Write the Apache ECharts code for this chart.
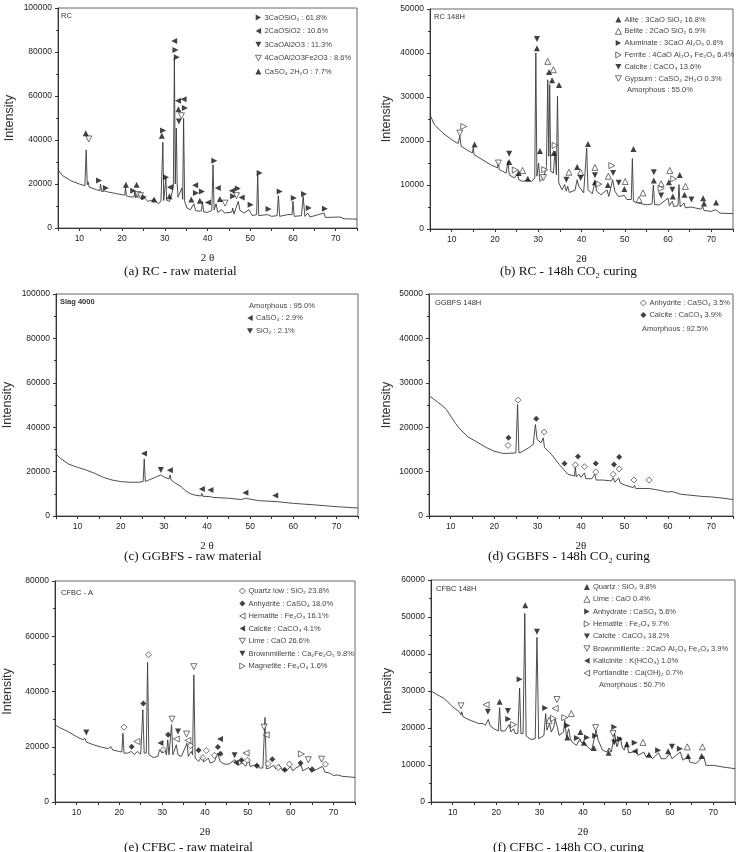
<!DOCTYPE html>
<html>
<head>
<meta charset="utf-8">
<script src="https://cdn.jsdelivr.net/npm/echarts@6/dist/echarts.min.js"></script>
<style>
  html, body { margin: 0; padding: 0; background: #fff; }
  #chart { width: 738px; height: 852px; }
</style>
</head>
<body>
<div id="chart"></div>
<script>
// ---- data: [2theta, intensity] ----
const xTicks = [10, 20, 30, 40, 50, 60, 70];

// (a) RC - raw material
const rcRawCurve = [[5,26500],[6,23900],[8,21500],[10,20000],[11.3,19200],[11.6,35500],[11.85,19700],[12.05,21000],[12.3,18600],[14,17400],[14.8,17000],[14.95,20000],[15.2,16600],[16.1,16800],[16.3,17400],[16.6,16400],[18,15900],[20,15100],[20.65,15000],[20.8,18500],[21.0,14600],[22,14100],[22.85,14200],[23.0,16600],[23.2,13600],[23.7,15400],[24.4,15100],[24.8,12900],[25.3,13600],[26,12100],[27.5,12900],[28.5,11000],[29.1,12100],[29.4,13000],[29.55,39000],[29.75,12500],[30.1,13000],[30.25,22700],[30.45,12500],[31.1,12100],[31.5,14400],[32.0,18500],[32.25,77000],[32.45,20000],[32.7,45400],[32.9,20000],[33.1,14000],[33.5,13600],[34.0,18200],[34.2,13000],[34.4,49900],[34.65,12100],[35.2,9100],[36,8300],[36.8,11000],[37.2,8000],[38,7600],[38.6,7800],[38.8,12100],[39.1,7300],[40,7100],[41.0,8000],[41.3,28700],[41.55,8200],[42,11000],[42.4,7100],[43.3,8300],[44,6800],[45.7,7200],[45.9,9100],[46.2,6300],[47.2,12100],[47.6,8000],[48.5,6800],[49.7,8300],[50.5,5600],[51.5,6100],[51.75,24200],[52.0,5600],[54,6100],[55,5300],[56.3,5600],[56.6,14700],[56.9,5300],[58.8,6100],[59.8,6100],[60.0,12100],[60.3,5300],[62.0,5600],[62.4,14400],[62.8,5300],[63.5,6800],[64,5000],[67.3,6800],[67.6,4800],[71,5000],[72,4200],[75,4000]];
const rcRawC3S = [[14.6,21600],[16.2,18200],[22.6,16900],[25.1,14100],[29.6,44300],[30.3,23100],[32.5,80900],[32.8,77600],[34.7,54500],[37.3,15900],[38.7,16600],[41.6,30600],[46.0,14400],[47.1,17900],[50.1,10600],[52.2,25000],[54.3,8600],[56.9,16600],[60.2,13600],[62.6,15400],[63.7,9100],[67.5,8800]];
const rcRawC2S = [[31.2,18500],[32.2,85000],[33.1,57800],[34.4,58500],[37.1,19400],[40.1,11600],[42.4,18200],[45.7,16900],[48.0,13900]];
const rcRawC3A = [[33.3,48400]];
const rcRawC4AF = [[12.2,40500],[23.7,15200],[24.3,14700],[33.9,51000],[44.1,11300],[46.8,14700]];
const rcRawGyp = [[11.5,43100],[20.9,19700],[23.4,19700],[27.5,12900],[29.3,41900],[31.1,14400],[33.2,54000],[36.2,12900],[38.2,12400],[42.9,13200]];

// (b) RC - 148h CO2 curing
const rcCurCurve = [[5,26000],[6,23700],[8,21800],[10,20300],[11.5,19400],[11.9,21100],[12.2,18800],[14,17700],[14.8,17300],[15.0,18500],[15.2,16900],[17,15800],[19,14600],[20.6,13900],[20.8,15000],[21,13500],[22.6,12700],[23.0,15400],[23.3,12300],[24.5,11600],[25.2,12600],[25.5,11200],[26.5,10800],[27.5,11200],[28.5,10800],[29.2,11600],[29.45,40000],[29.7,12000],[30.1,15000],[30.4,10800],[31.2,11600],[31.9,14200],[32.2,33900],[32.45,16500],[32.65,32800],[32.9,13100],[33.5,12700],[33.9,17700],[34.2,12300],[34.45,30200],[34.75,10500],[35.5,8900],[36.1,10100],[36.5,8600],[36.8,9700],[37.2,8300],[38.5,8800],[39.0,11200],[39.4,9700],[40.5,8200],[41.2,18400],[41.5,8900],[42.5,8000],[43.1,10800],[43.5,8600],[44.5,7800],[45.9,8900],[46.3,7400],[47.2,11200],[47.7,8600],[48.5,7400],[49.9,7600],[50.5,6700],[51.5,6700],[51.75,16000],[52.0,6300],[53,5900],[55,5500],[56.3,5700],[56.6,10000],[56.9,5500],[58,5500],[60.0,7000],[60.3,5300],[61,6300],[61.3,5100],[62.3,5300],[62.5,10100],[62.8,5000],[63.7,5900],[64,4800],[65.3,5000],[67.6,4500],[68.0,5100],[68.3,4200],[70,4000],[71,4400],[72,3600],[75,3500]];
const rcCurAlite = [[15.3,19200],[23.3,15200],[25.5,12700],[27.6,11400],[29.7,41100],[30.4,17700],[32.5,35700],[33.2,33800],[33.6,17300],[34.8,32700],[39.0,14100],[41.5,19300],[43.1,10600],[46.1,10000],[49.9,9100],[52.0,18200],[56.7,11000],[60.2,10600],[61.1,7400],[62.7,12300],[63.8,7800],[68.1,7000],[68.3,5800],[71.1,6000]];
const rcCurBelite = [[26.4,13300],[32.2,38100],[33.5,36200],[37.1,12900],[39.8,12900],[43.1,14000],[46.2,12000],[50.1,10800],[53.3,6700],[54.2,8200],[58.4,10300],[60.4,13300],[64.0,9700]];
const rcCurAluminate = [];
const rcCurFerrite = [[12.8,23300],[24.7,13400],[31.5,13500],[33.9,19000],[44.0,10200],[47.0,14400],[58.4,9200],[61.3,11400]];
const rcCurCalcite = [[23.3,17100],[29.7,43200],[36.5,11200],[39.8,11600],[43.1,12200],[47.3,12700],[48.6,10500],[56.7,12900],[58.4,7600],[61.0,8900],[65.4,6700]];
const rcCurGypsum = [[11.9,21800],[20.8,15000],[31.2,11700]];

// (c) GGBFS - raw material
const slagRawCurve = [[5,27900],[6,26000],[8,23300],[10,21900],[12,20700],[14,19200],[16,17400],[18,16200],[20,15500],[22,15200],[24,15200],[25.2,15500],[25.45,25700],[25.7,15500],[26.5,16200],[28,17400],[29.3,18500],[30.2,17400],[31.2,16700],[31.45,18500],[31.7,16200],[32.5,15000],[34,13200],[35,11400],[36,10200],[37,9500],[38.6,9000],[38.8,10200],[39.0,8900],[40.8,8700],[41.0,9500],[41.3,8400],[45,8000],[48,7400],[48.9,8000],[49.2,7100],[52,6900],[56,6500],[60,5700],[65,5000],[70,4200],[75,3600]];
const slagRawCaSO4 = [[25.4,28200],[31.4,20600],[38.8,12200],[40.8,11700],[48.9,10500],[55.8,9200]];
const slagRawSiO2 = [[29.3,20700]];

// (d) GGBFS - 148h CO2 curing
const slagCurCurve = [[5,27100],[6,26400],[8,24900],[9,24000],[10,22500],[11,21000],[12,19700],[14,17800],[16,16700],[18,15500],[20,14600],[22,14100],[23,14100],[23.2,14500],[23.4,13900],[25.0,14200],[25.4,25100],[25.7,14200],[26.5,14500],[28,15400],[29.0,16100],[29.5,20600],[29.9,17200],[30.8,16500],[31.3,17600],[31.6,15400],[32.5,14600],[33.5,13500],[35,11600],[36,10500],[37,9400],[38.5,9000],[38.7,11200],[38.9,8800],[39.5,9400],[40,8700],[40.8,9700],[41.1,8400],[42.5,8400],[43.2,9400],[43.5,8100],[45,8100],[47,7900],[47.4,8600],[47.8,7600],[48.7,8600],[49,7500],[50,7000],[52,6400],[52.3,6900],[52.6,6200],[55.7,6200],[56,5800],[58,5800],[60,5400],[61,5500],[63,4900],[65,4700],[68,4400],[70,4300],[72,4100],[75,3700]];
const slagCurAnhydrite = [[23.2,15900],[25.5,26100],[31.5,18900],[38.7,11500],[40.8,11100],[43.4,9900],[47.4,9400],[48.8,10600],[52.2,8100],[55.7,8100]];
const slagCurCalcite = [[23.3,17600],[29.7,21900],[36.2,11800],[39.3,13400],[43.4,11800],[47.6,11600],[48.8,13300]];

// (e) CFBC - raw material
const cfbcRawCurve = [[5,28000],[6,27000],[8,25500],[10,23700],[11.5,22500],[12,23100],[12.3,21700],[14,20700],[16,19800],[17.5,19300],[18,20100],[18.5,18800],[20,18300],[20.6,18100],[20.85,24900],[21.1,17700],[22,17700],[22.8,18300],[23.5,17100],[24.2,18300],[25,17300],[25.5,33400],[25.8,17700],[26.3,17700],[26.6,50500],[26.9,17100],[28,16100],[29,16500],[29.4,18900],[30,17700],[30.5,19500],[31.0,17100],[31.3,22500],[31.6,17100],[32.2,28000],[32.5,17100],[33.3,20700],[33.7,17100],[34.5,16500],[35.8,21300],[36.1,16500],[36.8,18300],[37.1,17100],[37.4,46000],[37.7,15900],[38.5,14700],[39.3,16500],[39.7,14500],[40.8,15900],[41.2,14100],[42.2,14700],[43.0,17700],[43.5,14700],[44.5,13700],[45.5,13700],[47,15300],[47.5,13300],[48.8,14100],[49.5,12900],[50.2,15500],[50.5,12900],[52.3,13500],[52.7,12300],[53.5,12300],[54.0,30600],[54.3,12000],[55,12300],[56,13300],[56.5,12000],[57.3,13500],[58,11700],[59,11300],[60,12900],[60.5,11300],[61.2,12300],[62.4,13500],[62.8,11300],[64.2,12500],[64.8,10800],[67.4,12900],[68,10800],[69,10500],[70,9600],[71,9800],[72,9300],[75,8900]];
const cfbcRawQuartz = [[21.1,27100],[26.8,53300],[30.3,18900],[36.6,20400],[39.5,16100],[40.3,18600],[42.2,16900],[49.9,15100],[54.7,13900],[57.1,12500],[59.7,13700],[68.1,13700]];
const cfbcRawAnhydrite = [[22.9,20000],[25.6,35700],[31.4,24300],[38.5,18700],[43.0,19900],[43.6,17500],[48.5,15100],[52.1,13100],[55.7,15500],[58.6,11700],[62.3,14100],[65.0,11900]];
const cfbcRawHematite = [[24.1,21900],[33.3,22800],[36.0,22300],[49.6,17700],[54.3,24300]];
const cfbcRawCalcite = [[29.6,21400],[43.5,22800],[47.2,14300]];
const cfbcRawLime = [[32.3,30000],[35.7,24600],[37.4,49000],[53.8,27100],[64.1,15300],[67.2,15500]];
const cfbcRawBrown = [[12.3,25200],[33.7,25500],[46.9,16900]];
const cfbcRawMagnetite = [[62.5,17400]];

// (f) CFBC - 148h CO2 curing
const cfbcCurCurve = [[5,30000],[6,29300],[8,28000],[10,25700],[11.5,24400],[11.9,23500],[12.1,24400],[12.4,23000],[14,22100],[16,21200],[17,21200],[17.5,20700],[18.2,22300],[18.6,20600],[19.5,19800],[20.5,19200],[20.8,25500],[21.1,19200],[22,19200],[23.0,20900],[23.4,18900],[24,19800],[24.4,18500],[25.0,18500],[25.4,30800],[25.7,18500],[26.2,18500],[26.6,51000],[26.9,17900],[28,16900],[29.0,17100],[29.4,44500],[29.8,17100],[30.5,17600],[31.0,18000],[31.4,23900],[31.7,19400],[32.3,21200],[32.7,18900],[33.3,20300],[33.6,22400],[34.0,20700],[34.5,18000],[35.5,18900],[35.8,22100],[36.2,17600],[36.7,19800],[37.1,17100],[37.5,16200],[38.5,15300],[39.3,17100],[39.5,16200],[40.5,15800],[41,14900],[42,14000],[43.0,19400],[43.5,16700],[44.5,14000],[45.5,13500],[46,14600],[46.5,13500],[47.3,18500],[47.8,14900],[48.6,17600],[49,14900],[49.5,14000],[50.1,16200],[50.5,13300],[51.5,13500],[52.2,13700],[52.7,12600],[54,13500],[54.5,12200],[55.2,12800],[56,11700],[57.4,13300],[58,11700],[59,11700],[60.0,13100],[60.5,11700],[61,12200],[62.4,13500],[63,11300],[64.2,12200],[64.6,10800],[66,10400],[67.8,12400],[68.3,9900],[70,9900],[71,9700],[72,9500],[75,9000]];
const cfbcCurQuartz = [[20.8,27100],[26.7,53200],[36.4,17400],[39.4,18900],[40.2,16000],[42.5,14600],[45.9,13300],[50.1,15600],[55.2,12800],[59.6,13700],[64.2,12400],[67.3,12400]];
const cfbcCurLime = [[32.2,22100],[37.3,23900],[53.8,16100],[64.0,14900],[67.5,14900]];
const cfbcCurAnhydrate = [[22.8,22400],[25.4,33200],[31.3,25400],[36.4,20700],[38.6,17300],[40.9,17400],[42.8,17900],[47.2,20300],[48.5,17000],[51.9,16000],[57.3,14000],[62.3,14400]];
const cfbcCurHematite = [[24.0,20900],[33.2,22600],[35.8,22800]];
const cfbcCurCalcite = [[18.1,24400],[22.7,24600],[29.4,46000],[47.2,16100],[60.5,14900]];
const cfbcCurBrown = [[11.9,26000],[34.0,27700],[42.9,20100],[46.9,18500]];
const cfbcCurKalicinite = [[51.9,13700]];
const cfbcCurPortlandite = [[17.7,26300],[33.6,25300]];

// ---- marker shapes ----
const UP = 'triangle';
const DOWN = 'path://M0,0L10,0L5,9Z';
const RIGHT = 'path://M0,0L9,5L0,10Z';
const LEFT = 'path://M9,0L0,5L9,10Z';
const DIAM = 'diamond';

// ---- panel layout ----
const panels = [
  { left: 58,  top: 8,   width: 299, height: 220, ymax: 100000, step: 20000, xname: '2 θ', yGap: 42,
    curve: rcRawCurve, tag: 'RC', tagPos: [61, 12], legendPos: [255, 13.5], legendGap: 5.5,
    caption: '(a) RC - raw material', capPos: [124, 272],
    marks: [
      ['3CaOSiO₂ : 61.8%', rcRawC3S, RIGHT, false],
      ['2CaOSiO2 : 10.6%', rcRawC2S, LEFT, false],
      ['3CaOAl2O3 : 11.3%', rcRawC3A, DOWN, false],
      ['4CaOAl2O3Fe2O3 : 8.6%', rcRawC4AF, DOWN, true],
      ['CaSO₄ 2H₂O : 7.7%', rcRawGyp, UP, false]
    ] },
  { left: 430, top: 9,   width: 303, height: 220, ymax: 50000, step: 10000, xname: '2θ', yGap: 37,
    curve: rcCurCurve, tag: 'RC 148H', tagPos: [434, 13], legendPos: [615, 15.5], legendGap: 3.8,
    amorph: ['Amorphous : 55.0%', 627, 90],
    caption: '(b) RC - 148h CO₂ curing', capPos: [500, 272],
    marks: [
      ['Alite : 3CaO SiO₂ 16.8%', rcCurAlite, UP, false],
      ['Belite : 2CaO SiO₂ 6.9%', rcCurBelite, UP, true],
      ['Aluminate : 3CaO Al₂O₃ 0.8%', rcCurAluminate, RIGHT, false],
      ['Ferrite : 4CaO Al₂O₃ Fe₂O₃ 6.4%', rcCurFerrite, RIGHT, true],
      ['Calcite : CaCO₃ 13.6%', rcCurCalcite, DOWN, false],
      ['Gypsum : CaSO₄ 2H₂O 0.3%', rcCurGypsum, DOWN, true]
    ] },
  { left: 56,  top: 294, width: 302, height: 222, ymax: 100000, step: 20000, xname: '2 θ', yGap: 42,
    curve: slagRawCurve, tag: 'Slag 4000', tagBold: true, tagPos: [60, 298], legendPos: [247, 314], legendGap: 5,
    amorph: ['Amorphous : 95.0%', 249, 306],
    caption: '(c) GGBFS - raw material', capPos: [124, 557],
    marks: [
      ['CaSO₄ : 2.9%', slagRawCaSO4, LEFT, false],
      ['SiO₂ : 2.1%', slagRawSiO2, DOWN, false]
    ] },
  { left: 429, top: 294, width: 304, height: 222, ymax: 50000, step: 10000, xname: '2θ', yGap: 36,
    curve: slagCurCurve, tag: 'GGBFS 148H', tagPos: [435, 299], legendPos: [640, 299], legendGap: 4,
    amorph: ['Amorphous : 92.5%', 642, 329],
    caption: '(d) GGBFS - 148h CO₂ curing', capPos: [488, 557],
    marks: [
      ['Anhydrite : CaSO₄ 3.5%', slagCurAnhydrite, DIAM, true],
      ['Calcite : CaCO₃ 3.9%', slagCurCalcite, DIAM, false]
    ] },
  { left: 55,  top: 581, width: 300, height: 221, ymax: 80000, step: 20000, xname: '2θ', yGap: 41,
    curve: cfbcRawCurve, tag: 'CFBC - A', tagPos: [61, 589], legendPos: [239, 587], legendGap: 4.5,
    caption: '(e) CFBC - raw mateiral', capPos: [124, 848],
    marks: [
      ['Quartz low : SiO₂ 23.8%', cfbcRawQuartz, DIAM, true],
      ['Anhydrite : CaSO₄ 18.0%', cfbcRawAnhydrite, DIAM, false],
      ['Hematite : Fe₂O₃ 16.1%', cfbcRawHematite, LEFT, true],
      ['Calcite : CaCO₃ 4.1%', cfbcRawCalcite, LEFT, false],
      ['Lime : CaO 26.6%', cfbcRawLime, DOWN, true],
      ['Brownmillerite : Ca₂Fe₂O₅ 9.8%', cfbcRawBrown, DOWN, false],
      ['Magnetite : Fe₃O₄ 1.6%', cfbcRawMagnetite, RIGHT, true]
    ] },
  { left: 431, top: 580, width: 304, height: 222, ymax: 60000, step: 10000, xname: '2θ', yGap: 37,
    curve: cfbcCurCurve, tag: 'CFBC 148H', tagPos: [436, 585], legendPos: [583.5, 583], legendGap: 4.3,
    amorph: ['Amorphous : 50.7%', 599, 685],
    caption: '(f) CFBC - 148h CO₂ curing', capPos: [493, 848],
    marks: [
      ['Quartz : SiO₂ 9.8%', cfbcCurQuartz, UP, false],
      ['Lime : CaO 0.4%', cfbcCurLime, UP, true],
      ['Anhydrate : CaSO₄ 5.6%', cfbcCurAnhydrate, RIGHT, false],
      ['Hematite : Fe₂O₃ 9.7%', cfbcCurHematite, RIGHT, true],
      ['Calcite : CaCO₃ 18.2%', cfbcCurCalcite, DOWN, false],
      ['Brownmillerite : 2CaO Al₂O₃ Fe₂O₃ 3.9%', cfbcCurBrown, DOWN, true],
      ['Kalicinite : K(HCO₃) 1.0%', cfbcCurKalicinite, LEFT, false],
      ['Portlandite : Ca(OH)₂ 0.7%', cfbcCurPortlandite, LEFT, true]
    ] }
];

const SANS = '"Liberation Sans", Arial, "DejaVu Sans", sans-serif';
const SERIF = '"Liberation Serif", "Times New Roman", "DejaVu Serif", serif';

const solid = { color: '#111', borderColor: '#111', borderWidth: 0 };
const hollow = { color: '#fff', borderColor: '#222', borderWidth: 0.8 };

const grid = [], xAxis = [], yAxis = [], series = [], legend = [], graphic = [];

panels.forEach((p, i) => {
  grid.push({ left: p.left, top: p.top, width: p.width, height: p.height,
    show: true, borderColor: '#666', borderWidth: 1, backgroundColor: 'transparent' });

  xAxis.push({
    gridIndex: i, type: 'value', min: 5, max: 75, interval: 5,
    name: p.xname, nameLocation: 'middle', nameGap: 25,
    nameTextStyle: { fontFamily: SERIF, fontSize: 11, color: '#222' },
    axisLine: { lineStyle: { color: '#333', width: 1 } },
    axisTick: { length: 3, lineStyle: { color: '#333' } },
    axisLabel: { fontFamily: SANS, fontSize: 8.5, color: '#222', margin: 6,
      formatter: v => (xTicks.indexOf(v) >= 0 ? String(v) : '') },
    splitLine: { show: false }
  });

  yAxis.push({
    gridIndex: i, type: 'value', min: 0, max: p.ymax, interval: p.step,
    name: 'Intensity', nameLocation: 'middle', nameGap: p.yGap,
    nameTextStyle: { fontFamily: SANS, fontSize: 12.5, color: '#333' },
    axisLine: { show: true, lineStyle: { color: '#333', width: 1 } },
    axisTick: { show: true, length: 3, lineStyle: { color: '#333' } },
    minorTick: { show: true, splitNumber: 2, length: 2, lineStyle: { color: '#333' } },
    axisLabel: { fontFamily: SANS, fontSize: 8.5, color: '#222', margin: 6, formatter: v => String(v) },
    splitLine: { show: false }
  });

  series.push({
    type: 'line', xAxisIndex: i, yAxisIndex: i, data: p.curve,
    showSymbol: false, silent: true, z: 2,
    lineStyle: { color: '#3a3a3a', width: 0.9 }
  });

  const items = [];
  p.marks.forEach(m => {
    const style = m[3] ? hollow : solid;
    items.push({ name: m[0], icon: m[2], itemStyle: Object.assign({}, style) });
    series.push({
      type: 'scatter', name: m[0], xAxisIndex: i, yAxisIndex: i, data: m[1],
      symbol: m[2], symbolSize: 6, z: 3, itemStyle: style
    });
  });

  legend.push({
    data: items, orient: 'vertical', left: p.legendPos[0], top: p.legendPos[1], padding: 0,
    itemWidth: 6, itemHeight: 6, itemGap: p.legendGap, selectedMode: false,
    textStyle: { fontFamily: SANS, fontSize: 7.5, color: '#444', padding: [0, 0, 0, -2] }
  });

  graphic.push({ type: 'text', left: p.tagPos[0], top: p.tagPos[1],
    style: { text: p.tag, font: (p.tagBold ? 'bold ' : '') + '7.5px ' + SANS, fill: '#333' } });

  if (p.amorph) {
    graphic.push({ type: 'text', left: p.amorph[1], top: p.amorph[2] - 4,
      style: { text: p.amorph[0], font: '7.5px ' + SANS, fill: '#444' } });
  }

  graphic.push({ type: 'text', x: p.capPos[0], y: p.capPos[1],
    style: { text: p.caption, font: '13.2px ' + SERIF, fill: '#111',
      textAlign: 'left', textVerticalAlign: 'middle' } });
});

const chart = echarts.init(document.getElementById('chart'), null, { renderer: 'canvas' });
chart.setOption({
  backgroundColor: '#fff',
  animation: false,
  grid, xAxis, yAxis, series, legend, graphic
});
</script>
</body>
</html>
